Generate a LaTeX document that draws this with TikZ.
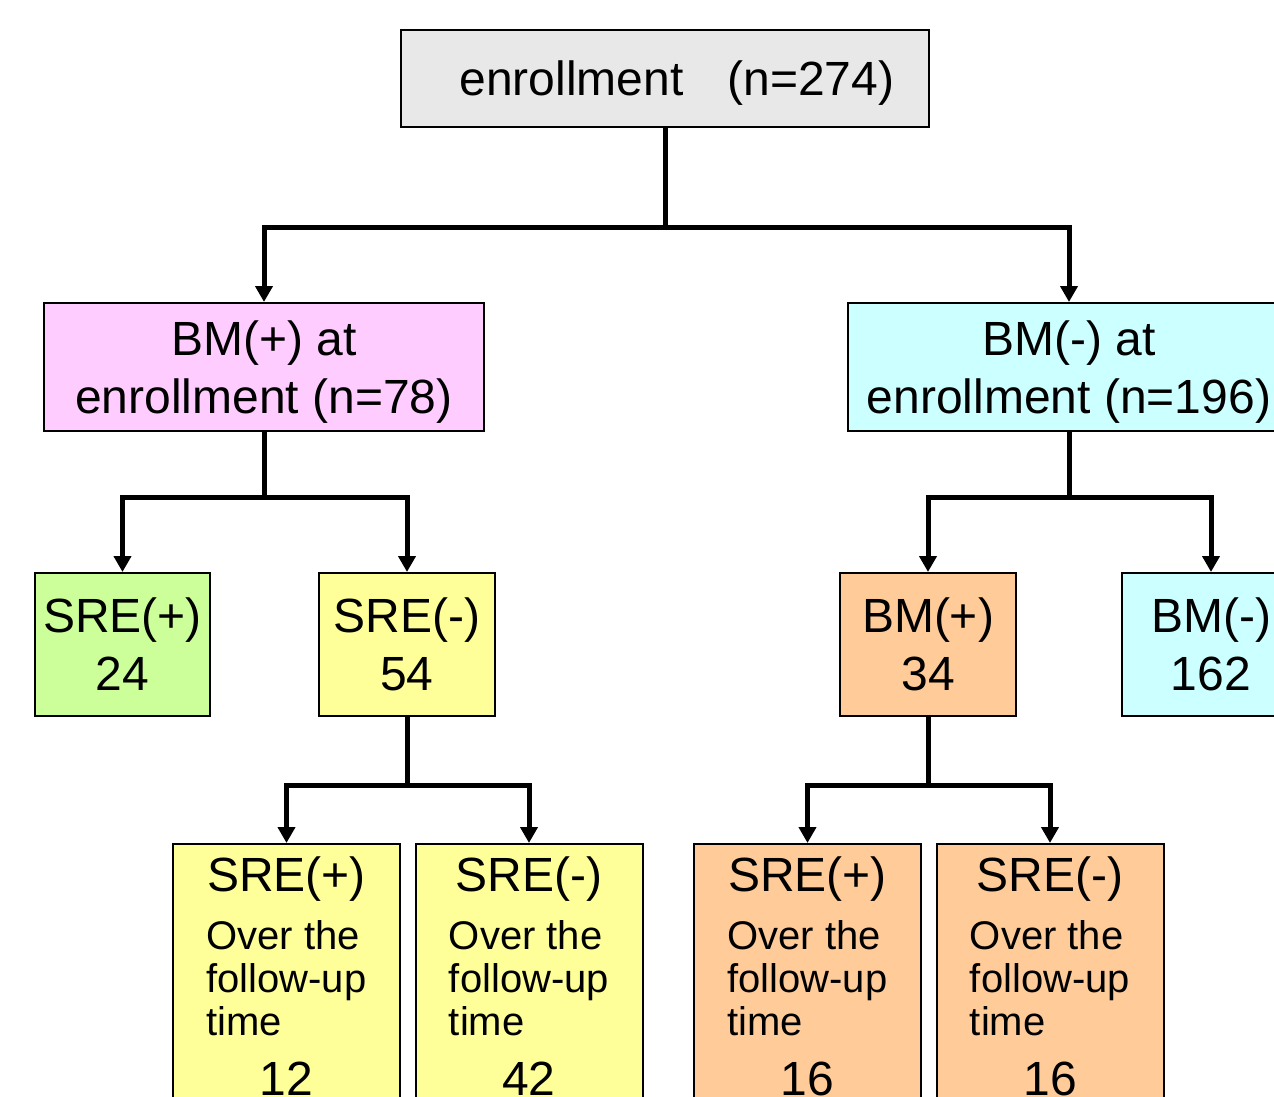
\documentclass[tikz,border=0pt]{standalone}
\usepackage{fontspec}
\setmainfont{Liberation Sans}
\usepackage{xcolor}
\usetikzlibrary{calc,positioning,arrows.meta}
\definecolor{color_fill_enroll}{HTML}{e8e8e8}
\definecolor{color_fill_bmpos}{HTML}{ffccff}
\definecolor{color_fill_bmneg}{HTML}{ccffff}
\definecolor{color_fill_srepos}{HTML}{ccff99}
\definecolor{color_fill_sreneg}{HTML}{ffff99}
\definecolor{color_fill_bmsub}{HTML}{ffcc99}
\newcommand{\bigtext}{\fontsize{24}{29}\selectfont}
\newcommand{\smalltext}{\fontsize{20}{21.5}\selectfont}

\begin{document}
\begin{tikzpicture}[x=0.5pt,y=-0.5pt,
		box/.style={draw=black,line width=1pt,inner sep=0pt,text depth=0pt,align=center,font=\bigtext},
		stem/.style={line width=2.5pt},
		split/.style={line width=2.5pt,{Triangle[length=8pt,width=8.5pt]}-{Triangle[length=8pt,width=8.5pt]}},
		head/.style={anchor=base,inner sep=0pt,font=\bigtext},
		body/.style={anchor=north west,inner sep=0pt,align=left,font=\smalltext},
		count/.style={anchor=base,inner sep=0pt,font=\bigtext}]
				\clip (0,0) rectangle (1274,1097);
				% Top box
				\node[box,fill=color_fill_enroll,minimum width=264pt,minimum height=48.5pt] (EN) at (665,78.5) {\hspace{12pt}enrollment\hspace{22pt}(n=274)};
				
				% BM at enrollment
				\node[box,fill=color_fill_bmpos,minimum width=220pt,minimum height=64pt] (BP) at (264,367) {BM(+) at\\enrollment (n=78)};
				\node[box,fill=color_fill_bmneg,minimum width=221pt,minimum height=64pt] (BN) at (1069,367) {BM(-) at\\enrollment (n=196)};
				
				% Second row
				\node[box,fill=color_fill_srepos,minimum width=87.5pt,minimum height=71.5pt] (SP) at (122.5,644.5) {SRE(+)\\24};
				\node[box,fill=color_fill_sreneg,minimum width=88pt,minimum height=71.5pt] (SN) at (407,644.5) {SRE(-)\\54};
				\node[box,fill=color_fill_bmsub,minimum width=88pt,minimum height=71.5pt] (MP) at (928,644.5) {BM(+)\\34};
				\node[box,fill=color_fill_bmneg,minimum width=89pt,minimum height=71.5pt] (MN) at (1211,644.5) {BM(-)\\162};
				
				% Follow-up boxes
				\node[box,fill=color_fill_sreneg,minimum width=113.5pt,minimum height=150pt,anchor=north] (FA) at (286.5,843) {};
				\node[box,fill=color_fill_sreneg,minimum width=113.5pt,minimum height=150pt,anchor=north] (FB) at (529,843) {};
				\node[box,fill=color_fill_bmsub,minimum width=113.5pt,minimum height=150pt,anchor=north] (FC) at (807.5,843) {};
				\node[box,fill=color_fill_bmsub,minimum width=113.5pt,minimum height=150pt,anchor=north] (FD) at (1050,843) {};
				
				\node[head] (FAhead) at ($(FA.north)+(0,48)$) {SRE(+)};
				\node[body] (FAbody) at ($(FA.north west)+(34,77)$) {Over the\\follow-up\\time};
				\node[count] (FAcount) at ($(FA.north)+(0,252)$) {12};
				
				\node[head] (FBhead) at ($(FB.north)+(0,48)$) {SRE(-)};
				\node[body] (FBbody) at ($(FB.north west)+(34,77)$) {Over the\\follow-up\\time};
				\node[count] (FBcount) at ($(FB.north)+(0,252)$) {42};
				
				\node[head] (FChead) at ($(FC.north)+(0,48)$) {SRE(+)};
				\node[body] (FCbody) at ($(FC.north west)+(34,77)$) {Over the\\follow-up\\time};
				\node[count] (FCcount) at ($(FC.north)+(0,252)$) {16};
				
				\node[head] (FDhead) at ($(FD.north)+(0,48)$) {SRE(-)};
				\node[body] (FDbody) at ($(FD.north west)+(34,77)$) {Over the\\follow-up\\time};
				\node[count] (FDcount) at ($(FD.north)+(0,252)$) {16};
				
				% Junctions
				\coordinate (J1) at ($(EN.south)+(0,99)$);
				\coordinate (J2) at ($(BP.south)+(0,65)$);
				\coordinate (J3) at ($(BN.south)+(0,65)$);
				\coordinate (J4) at ($(SN.south)+(0,68)$);
				\coordinate (J5) at ($(MP.south)+(0,68)$);
				
				% Connectors
				\draw[stem] (EN) -- (J1);
				\draw[split] (BP) |- (J1) -| (BN);
				\draw[stem] (BP) -- (J2);
				\draw[split] (SP) |- (J2) -| (SN);
				\draw[stem] (BN) -- (J3);
				\draw[split] (MP) |- (J3) -| (MN);
				\draw[stem] (SN) -- (J4);
				\draw[split] (FA) |- (J4) -| (FB);
				\draw[stem] (MP) -- (J5);
				\draw[split] (FC) |- (J5) -| (FD);
			\end{tikzpicture}
\end{document}
